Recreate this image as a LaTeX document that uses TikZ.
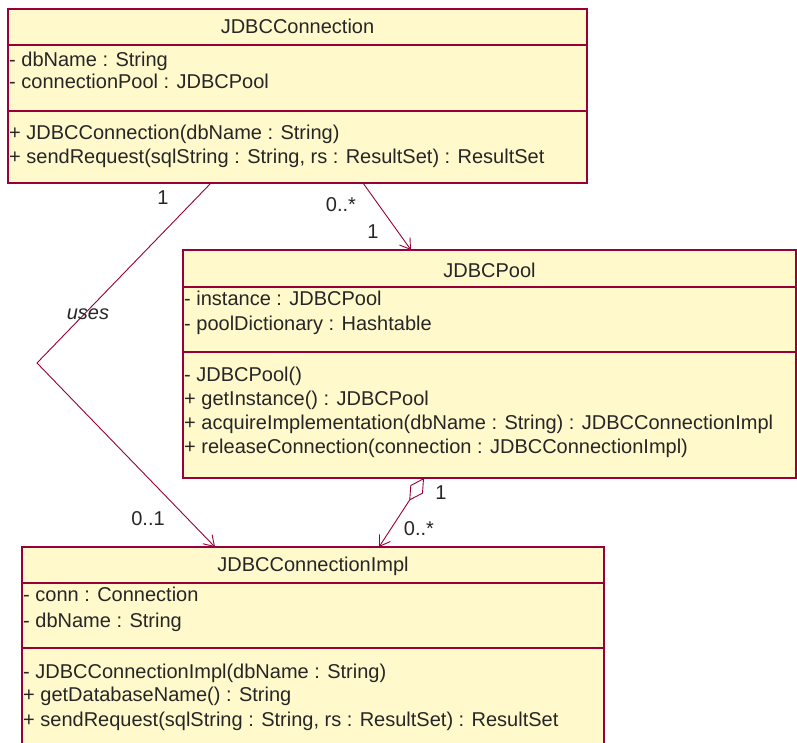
\documentclass[tikz,border=0pt]{standalone}
\usepackage{fontspec}
\setmainfont{Liberation Sans}
\usetikzlibrary{arrows.meta}
\definecolor{boxfill}{HTML}{FFF9CC}
\definecolor{edgecol}{HTML}{99003A}
\definecolor{txt}{HTML}{262626}
\begin{document}
\begin{tikzpicture}[x=1pt,y=-1pt,
  umlbox/.style={draw=edgecol, fill=boxfill, line width=1.3pt, rectangle, inner sep=0pt, outer sep=0pt, anchor=north west},
  member/.style={anchor=west, inner sep=0pt, text=txt, font=\fontsize{20}{24}\selectfont, text height=14.5pt, text depth=4pt},
  cname/.style={member, anchor=center},
  mult/.style={inner sep=0pt, text=txt, font=\fontsize{20}{24}\selectfont},
  sepline/.style={draw=edgecol, line width=1.3pt},
  link/.style={draw=edgecol, line width=0.9pt},
  openhead/.style={-{Straight Barb[length=10pt,width=13pt]}}]
\useasboundingbox (0,0) rectangle (797,742);
\clip (0,0) rectangle (797,742);
\fill[white] (0,0) rectangle (797,742);

% JDBCConnection
\node[umlbox, minimum width=579pt, minimum height=174pt] (conn) at (8,9) {};
\draw[sepline] ([yshift=-36pt]conn.north west) -- ([yshift=-36pt]conn.north east);
\draw[sepline] ([yshift=-102pt]conn.north west) -- ([yshift=-102pt]conn.north east);
\node[cname] (connT) at (297.5,28) {JDBCConnection};
\node[member] (connA1) at (9,61) {- dbName : String};
\node[member] (connA2) at (9,83) {- connectionPool : JDBCPool};
\node[member] (connO1) at (9,134) {+ JDBCConnection(dbName : String)};
\node[member] (connO2) at (9,158) {+ sendRequest(sqlString : String, rs : ResultSet) : ResultSet};

% JDBCPool
\node[umlbox, minimum width=613pt, minimum height=228pt] (pool) at (183,250) {};
\draw[sepline] ([yshift=-37pt]pool.north west) -- ([yshift=-37pt]pool.north east);
\draw[sepline] ([yshift=-102pt]pool.north west) -- ([yshift=-102pt]pool.north east);
\node[cname] (poolT) at (489.5,272) {JDBCPool};
\node[member] (poolA1) at (184,300) {- instance : JDBCPool};
\node[member] (poolA2) at (184,325) {- poolDictionary : Hashtable};
\node[member] (poolO1) at (184,376) {- JDBCPool()};
\node[member] (poolO2) at (184,400) {+ getInstance() : JDBCPool};
\node[member] (poolO3) at (184,424) {+ acquireImplementation(dbName : String) : JDBCConnectionImpl};
\node[member] (poolO4) at (184,448) {+ releaseConnection(connection : JDBCConnectionImpl)};

% JDBCConnectionImpl
\node[umlbox, minimum width=582pt, minimum height=213pt] (impl) at (22,547) {};
\draw[sepline] ([yshift=-36pt]impl.north west) -- ([yshift=-36pt]impl.north east);
\draw[sepline] ([yshift=-101pt]impl.north west) -- ([yshift=-101pt]impl.north east);
\node[cname] (implT) at (313,566) {JDBCConnectionImpl};
\node[member] (implA1) at (23,596) {- conn : Connection};
\node[member] (implA2) at (23,622) {- dbName : String};
\node[member] (implO1) at (23,673) {- JDBCConnectionImpl(dbName : String)};
\node[member] (implO2) at (23,696) {+ getDatabaseName() : String};
\node[member] (implO3) at (23,721) {+ sendRequest(sqlString : String, rs : ResultSet) : ResultSet};

% uses association
\coordinate (bend) at (37,363);
\draw[link, openhead] ([xshift=203pt]conn.south west) -- (bend) -- ([xshift=193pt]impl.north west);
\node[mult] (m1) at (163,198) {1};
\node[mult, font=\fontsize{20}{24}\selectfont\itshape] (usesL) at (88,314) {uses};
\node[mult] (m2) at (148,519) {0..1};

% connection -> pool
\draw[link, openhead] ([xshift=355pt]conn.south west) -- ([xshift=228pt]pool.north west);
\node[mult] (m3) at (341,205) {0..*};
\node[mult] (m4) at (373,232) {1};

% aggregation pool -> impl
\draw[link, {Diamond[open,length=27pt,width=15pt]}-{Straight Barb[length=10pt,width=13pt]}] ([xshift=241pt]pool.south west) -- ([xshift=357pt]impl.north west);
\node[mult] (m5) at (441,493) {1};
\node[mult] (m6) at (419,529) {0..*};
\end{tikzpicture}
\end{document}
